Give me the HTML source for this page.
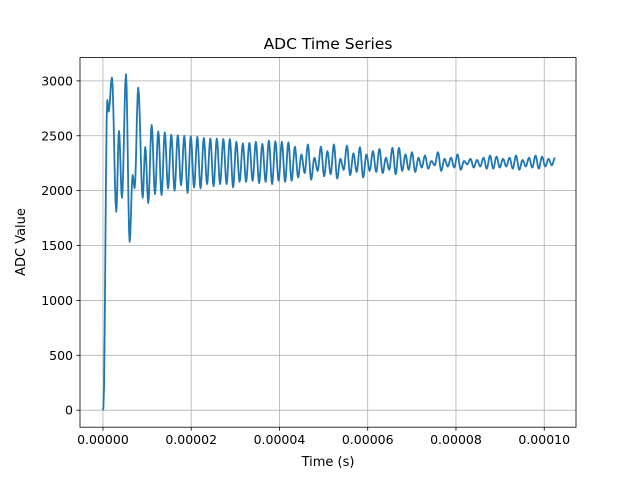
<!DOCTYPE html>
<html><head><meta charset="utf-8"><style>
body{margin:0;background:#fff}
svg{display:block;font-family:"DejaVu Sans","Liberation Sans",sans-serif}
</style></head><body>
<svg id="chart" width="640" height="480">
<rect width="640" height="480" fill="#fff"/>
<g id="grid"></g>
<g id="series"></g>
<rect x="80" y="57.6" width="496" height="369.6" fill="none" stroke="#000" stroke-width="0.8"/>
<g id="xticks"></g>
<g id="yticks"></g>
<text x="328" y="49" font-size="15.5" text-anchor="middle">ADC Time Series</text>
<text x="328" y="466" font-size="13" text-anchor="middle">Time (s)</text>
<text x="25" y="242" font-size="13" text-anchor="middle" transform="rotate(-90 25 242)">ADC Value</text>
</svg>
<script>
const xTickValues=[0,0.00002,0.00004,0.00006,0.00008,0.0001];
const xTickLabels=["0.00000","0.00002","0.00004","0.00006","0.00008","0.00010"];
const yTickValues=[0,500,1000,1500,2000,2500,3000];
const transientTimesUs=[0,0.1,0.98,1.29,2.04,3.02,3.63,4.31,5.22,6.05,6.73,7.19,8.00,9.00,9.59,10.27,11.04,11.79];
const transientValues=[0,20,2826,2720,3030,1808,2543,1935,3060,1534,2142,2024,2938,1935,2397,1887,2598,1969];
const steadyStartUs=12.54;
const steadyPeriodUs=1.474;
const peakValues=[2540,2530,2510,2505,2500,2495,2490,2480,2475,2475,2470,2470,2445,2430,2435,2445,2425,2455,2450,2445,
2440,2400,2330,2420,2300,2400,2360,2420,2290,2410,2340,2395,2330,2360,2380,2300,2390,2390,2330,2350,
2300,2320,2270,2350,2290,2300,2330,2270,2290,2280,2300,2320,2310,2290,2300,2320,2280,2300,2320,2310,2290];
const troughValues=[1960,2020,2000,2050,1980,2030,2020,2060,2040,2060,2060,2030,2080,2080,2090,2070,2080,2060,2090,2080,
2090,2120,2160,2100,2180,2130,2150,2110,2190,2140,2170,2120,2180,2170,2160,2190,2150,2180,2190,2170,
2210,2200,2230,2180,2220,2210,2190,2240,2210,2220,2200,2200,2210,2220,2200,2190,2220,2210,2200,2220,2230];
const endValue=2300;

const NS="http://www.w3.org/2000/svg";
const L=80,R=576,T=57.6,B=427.2;
const xMin=-0.0000052,xMax=0.0001072,yMin=-155,yMax=3212;
const xs=v=>L+(v-xMin)/(xMax-xMin)*(R-L);
const ys=v=>B-(v-yMin)/(yMax-yMin)*(B-T);
function mk(tag,attrs,parent){const e=document.createElementNS(NS,tag);for(const k in attrs)e.setAttribute(k,attrs[k]);parent.appendChild(e);return e;}
const grid=document.getElementById('grid'),xt=document.getElementById('xticks'),yt=document.getElementById('yticks');
xTickValues.forEach((v,i)=>{const x=xs(v);
 const g=mk('line',{x1:x,x2:x,y1:T,y2:B,stroke:'#b0b0b0','stroke-width':0.8},grid);
 
 
 const t=mk('line',{x1:x,x2:x,y1:B,y2:B+3.5,stroke:'#000','stroke-width':0.8},xt);
 
 
 const l=mk('text',{x:x,y:B+17,'font-size':12.5,'text-anchor':'middle'},xt);l.textContent=xTickLabels[i];
 
 
});
yTickValues.forEach(v=>{const y=ys(v);
 const g=mk('line',{x1:L,x2:R,y1:y,y2:y,stroke:'#b0b0b0','stroke-width':0.8},grid);
 
 
 const t=mk('line',{x1:L-3.5,x2:L,y1:y,y2:y,stroke:'#000','stroke-width':0.8},yt);
 
 
 const l=mk('text',{x:L-7,y:y+4.5,'font-size':12.5,'text-anchor':'end'},yt);l.textContent=String(v);
 
 
});
const pts=[];
transientTimesUs.forEach((t,i)=>pts.push([t*1e-6,transientValues[i]]));
for(let k=0;k<peakValues.length;k++){
 pts.push([(steadyStartUs+k*steadyPeriodUs)*1e-6,peakValues[k]]);
 if(k<troughValues.length)pts.push([(steadyStartUs+(k+0.5)*steadyPeriodUs)*1e-6,troughValues[k]]);
}
pts.push([(steadyStartUs+(peakValues.length)*steadyPeriodUs)*1e-6,endValue]);
let d='M'+xs(pts[0][0]).toFixed(2)+','+ys(pts[0][1]).toFixed(2);
for(let i=1;i<pts.length;i++){
 const [t0,v0]=pts[i-1],[t1,v1]=pts[i];
 const n=6;
 for(let j=1;j<=n;j++){const f=j/n,c=(1-Math.cos(Math.PI*f))/2;
  d+='L'+xs(t0+(t1-t0)*f).toFixed(2)+','+ys(v0+(v1-v0)*c).toFixed(2);}
}
const p=mk('path',{d:d,fill:'none',stroke:'#1f77b4','stroke-width':1.8,'stroke-linejoin':'round'},document.getElementById('series'));


</script>
</body></html>
